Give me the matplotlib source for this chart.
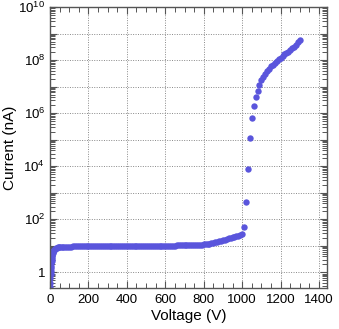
import matplotlib
matplotlib.use("Agg")
import matplotlib.pyplot as plt
from matplotlib.ticker import FixedLocator, MultipleLocator, FixedFormatter, NullFormatter
import numpy as np

plt.rcParams['font.family'] = ['Liberation Sans', 'DejaVu Sans']
plt.rcParams['mathtext.default'] = 'regular'

# Voltage (V) and current (nA)
voltage = [0, 1, 2, 3, 4, 5, 6, 7, 8, 9, 10, 12, 14, 16, 18, 20, 22, 25, 28, 30, 35, 40, 45, 50,
           60, 70, 80, 90, 100, 110, 120, 130, 140, 150, 160, 170, 180, 190, 200,
           210, 220, 230, 240, 250, 260, 270, 280, 290, 300, 310, 320, 330, 340, 350,
           360, 370, 380, 390, 400, 410, 420, 430, 440, 450, 460, 470, 480, 490, 500,
           510, 520, 530, 540, 550, 560, 570, 580, 590, 600, 610, 620, 630, 640, 650,
           660, 670, 680, 690, 700, 710, 720, 730, 740, 750, 760, 770, 780, 790, 800,
           810, 820, 830, 840, 850, 860, 870, 880, 890, 900, 910, 920, 930, 940, 950,
           960, 970, 980, 990, 1000,
           1010, 1020, 1030, 1040, 1050, 1060, 1070, 1080, 1090, 1100, 1110, 1120, 1130, 1140,
           1150, 1160, 1170, 1180, 1190, 1200, 1210, 1220, 1230, 1240, 1250, 1260, 1270, 1280,
           1290, 1300]
current = [0.28, 0.4, 0.6, 0.85, 1.1, 1.4, 1.8, 2.2, 2.7, 3.2, 3.7, 4.5, 5.2, 5.8, 6.3, 6.8, 7.1, 7.5, 7.9, 8.1,
           8.5, 8.8, 9.0, 9.1,
           9.2, 9.3, 9.3, 9.4, 9.4, 9.4, 9.5, 9.5, 9.5, 9.5, 9.6, 9.6, 9.6, 9.7, 9.7,
           9.7, 9.7, 9.8, 9.8, 9.8, 9.8, 9.8, 9.8, 9.9, 9.9, 9.9, 9.9, 9.9, 9.9, 10.0,
           10.0, 10.0, 10.0, 10.0, 10.0, 10.0, 10.0, 10.1, 10.1, 10.1, 10.1, 10.1, 10.1, 10.1, 10.1,
           10.1, 10.1, 10.1, 10.1, 10.1, 10.2, 10.2, 10.2, 10.2, 10.2, 10.2, 10.2, 10.2, 10.2, 10.2,
           10.3, 10.3, 10.3, 10.3, 10.3, 10.4, 10.4, 10.5, 10.5, 10.6, 10.7, 10.8, 10.9, 11.0, 11.2,
           11.5, 11.8, 12.2, 12.7, 13.2, 13.8, 14.4, 15.0, 15.7, 16.4, 17.2, 18.0, 18.9, 19.8, 20.8,
           21.8, 22.9, 24.0, 25.2, 27.0,
           52, 440, 8.1e3, 1.2e5, 6.6e5, 1.9e6, 4.0e6, 7.0e6, 1.15e7, 1.8e7, 2.4e7, 3.0e7, 3.8e7, 4.7e7,
           5.8e7, 6.8e7, 8.0e7, 9.3e7, 1.08e8, 1.25e8, 1.45e8, 1.65e8, 1.85e8, 2.1e8, 2.4e8, 2.75e8, 3.2e8, 3.8e8,
           4.6e8, 5.8e8]

x_major = [0, 200, 400, 600, 800, 1000, 1200, 1400]
y_exponents = list(range(0, 11))
y_labels = ['1' if e == 0 else (r'10$^{%d}$' % e if e % 2 == 0 else '') for e in y_exponents]

fig = plt.figure(figsize=(3.39, 3.29), dpi=100)
ax = fig.add_axes([0.1475, 0.1237, 0.8162, 0.855])

ax.plot(voltage, current, 'o', color='#5a55dc', markersize=4.6, markeredgewidth=0)

ax.set_yscale('log')
ax.set_xlim(0, 1440)
ax.set_ylim(0.25, 1e10)

ax.xaxis.set_major_locator(FixedLocator(x_major))
ax.xaxis.set_minor_locator(MultipleLocator(50))
y_major = [10.0 ** e for e in y_exponents]
y_minor = [m * 10.0 ** e for e in range(-1, 10) for m in range(2, 10) if 0.25 <= m * 10.0 ** e <= 1e10]
ax.yaxis.set_major_locator(FixedLocator(y_major))
ax.yaxis.set_major_formatter(FixedFormatter(y_labels))
ax.yaxis.set_minor_locator(FixedLocator(y_minor))
ax.yaxis.set_minor_formatter(NullFormatter())

ax.grid(True, which='major', linestyle=(0, (1, 1.5)), color='#888888', linewidth=0.7)

ax.tick_params(which='both', direction='in', top=True, right=True, labelsize=9.5,
               color='#555555', labelcolor='black')
ax.tick_params(which='major', length=5, width=0.8)
ax.tick_params(which='minor', length=3.5, width=0.7)
ax.tick_params(axis='x', which='major', pad=4)

for s in ax.spines.values():
    s.set_color('#555555')
    s.set_linewidth(1.0)

ax.set_xlabel('Voltage (V)', fontsize=11, labelpad=2)
ax.set_ylabel('Current (nA)', fontsize=11, labelpad=1)

fig.savefig('out.png', dpi=100)
